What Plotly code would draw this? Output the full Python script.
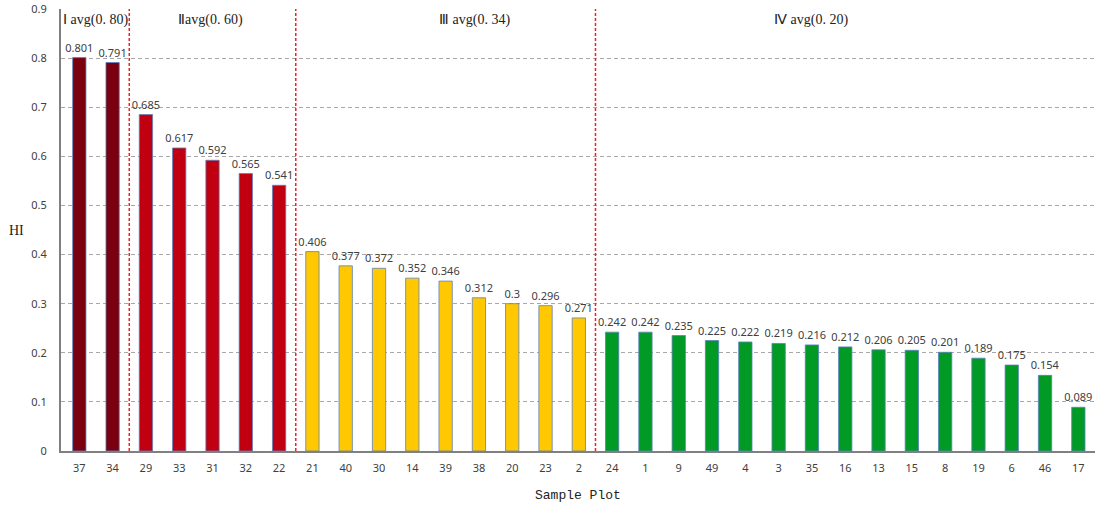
import plotly.graph_objects as go

# Sample plots ordered by HI, grouped into four classes
plots = ["37", "34", "29", "33", "31", "32", "22", "21", "40", "30", "14", "39",
         "38", "20", "23", "2", "24", "1", "9", "49", "4", "3", "35", "16", "13",
         "15", "8", "19", "6", "46", "17"]
hi = [0.801, 0.791, 0.685, 0.617, 0.592, 0.565, 0.541, 0.406, 0.377, 0.372,
      0.352, 0.346, 0.312, 0.3, 0.296, 0.271, 0.242, 0.242, 0.235, 0.225,
      0.222, 0.219, 0.216, 0.212, 0.206, 0.205, 0.201, 0.189, 0.175, 0.154, 0.089]
group_sizes = [2, 5, 9, 15]
group_labels = ["Ⅰ avg(0. 80)", "Ⅱavg(0. 60)", "Ⅲ avg(0. 34)", "Ⅳ avg(0. 20)"]
group_colors = ["#7a0010", "#c00010", "#ffc800", "#009a25"]
y_ticks = [0, 0.1, 0.2, 0.3, 0.4, 0.5, 0.6, 0.7, 0.8, 0.9]

colors = []
for size, col in zip(group_sizes, group_colors):
    colors += [col] * size

fig = go.Figure(go.Bar(
    x=plots, y=hi,
    marker=dict(color=colors, line=dict(color="#5a82c0", width=0.8)),
    text=[str(v) for v in hi], textposition="outside", constraintext="none",
    textfont=dict(family="Noto Sans", size=11, color="#404040"),
    cliponaxis=False,
))

# red dashed separators between classes
shapes = []
idx = 0
for size in group_sizes[:-1]:
    idx += size
    shapes.append(dict(type="line", xref="x", yref="y", x0=idx - 0.5, x1=idx - 0.5,
                       y0=0, y1=0.9, layer="above",
                       line=dict(color="#f0202a", width=1.5, dash="3px,2px")))

# class labels
annotations = []
label_x = [-0.55, 2.9, 10.75, 20.8]
for lx, lab in zip(label_x, group_labels):
    annotations.append(dict(x=lx, y=0.9, xref="x", yref="y", text=lab, showarrow=False,
                            xanchor="left", yanchor="top", yshift=-1,
                            font=dict(family="Liberation Serif", size=14, color="#222")))

annotations.append(dict(x=-0.043, y=0.5, xref="paper", yref="paper", text="HI",
                        showarrow=False, xanchor="center", yanchor="middle",
                        font=dict(family="Liberation Serif", size=14, color="#222")))
annotations.append(dict(x=0.5, y=0, xref="paper", yref="paper", text="Sample Plot",
                        showarrow=False, yanchor="top", yshift=-35,
                        font=dict(family="Liberation Mono", size=13, color="#222")))

fig.update_layout(
    width=1095, height=508,
    margin=dict(l=61, r=0, t=9, b=57),
    plot_bgcolor="white", paper_bgcolor="white",
    bargap=0.6, showlegend=False,
    shapes=shapes, annotations=annotations,
    xaxis=dict(type="category", showline=True, linecolor="#808080", linewidth=2,
               ticks="", tickfont=dict(family="Noto Sans", size=11, color="#404040"),
               ticklabelstandoff=6, showgrid=False),
    yaxis=dict(range=[0, 0.9], tickvals=y_ticks, ticktext=[f"{v:g}" for v in y_ticks],
               showline=True, linecolor="#808080", linewidth=2, ticks="",
               tickfont=dict(family="Noto Sans", size=11, color="#404040"),
               ticklabelstandoff=10, showgrid=True, gridcolor="#a8a8a8",
               griddash="4px,3px", gridwidth=1, zeroline=False),
)

fig.write_html("out.html")
